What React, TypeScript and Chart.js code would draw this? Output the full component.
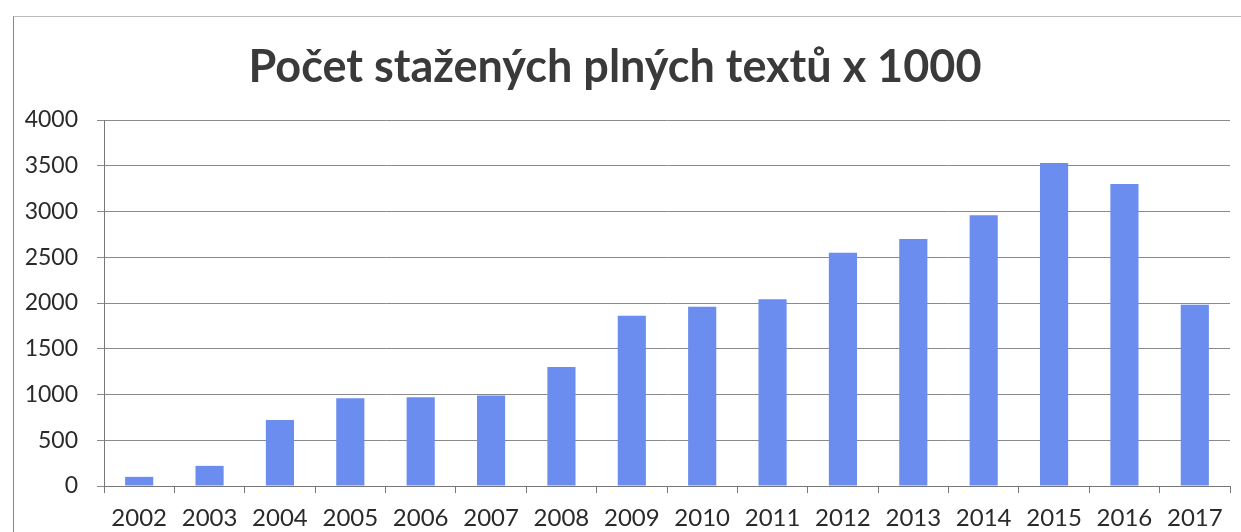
import React, { useEffect, useRef } from "react";
import { Chart, registerables } from "chart.js";

Chart.register(...registerables);

const years = ["2002","2003","2004","2005","2006","2007","2008","2009","2010","2011","2012","2013","2014","2015","2016","2017"];
const downloads = [100, 220, 720, 960, 970, 990, 1300, 1860, 1960, 2040, 2550, 2700, 2960, 3530, 3300, 1980];
const titleText = "Počet stažených plných textů x 1000";
const yMin = 0;
const yMax = 4000;
const yStep = 500;

export default function App() {
  const ref = useRef<HTMLCanvasElement | null>(null);
  useEffect(() => {
    if (!ref.current) return;
    const chart = new Chart(ref.current, {
      type: "bar",
      data: {
        labels: years,
        datasets: [
          {
            data: downloads,
            backgroundColor: "#6b8def",
            borderWidth: 0,
            categoryPercentage: 1,
            barPercentage: 0.4,
          },
        ],
      },
      options: {
        responsive: false,
        animation: false,
        layout: { padding: { left: 0, right: 11, top: 0, bottom: 0 } },
        plugins: {
          legend: { display: false },
          tooltip: { enabled: false },
          title: {
            display: true,
            text: titleText,
            color: "#3a3a3a",
            font: { family: "Lato", size: 45, weight: "bold" },
            padding: { top: 40, bottom: 26 },
          },
        },
        scales: {
          x: {
            offset: true,
            afterFit: (s: any) => { s.height = 46; },
            grid: {
              offset: true,
              drawOnChartArea: false,
              drawTicks: true,
              tickLength: 7,
              color: "#777",
            },
            border: { color: "#777", width: 1 },
            ticks: {
              color: "#2a2a2a",
              padding: 11,
              font: { family: "Lato", size: 24 },
              maxRotation: 0,
              autoSkip: false,
            },
          },
          y: {
            min: yMin,
            max: yMax,
            afterFit: (s: any) => { s.width = 104; },
            grid: {
              color: "#8a8a8a",
              tickLength: 7,
              drawTicks: true,
            },
            border: { color: "#777", width: 1 },
            ticks: {
              stepSize: yStep,
              color: "#2a2a2a",
              padding: 19,
              font: { family: "Lato", size: 23 },
              callback: (v: any) => String(v),
            },
          },
        },
      },
    });
    return () => chart.destroy();
  }, []);
  return (
    <div style={{ position: "fixed", left: 0, top: 0, width: 1241, height: 532, background: "#fff" }}>
      <div
        style={{
          position: "absolute",
          left: 13,
          top: 16,
          width: 1240,
          height: 530,
          borderLeft: "1px solid #888",
          borderTop: "1px solid #bbb",
        }}
      />
      <canvas ref={ref} width={1241} height={532} style={{ position: "absolute", left: 0, top: 0 }} />
    </div>
  );
}
